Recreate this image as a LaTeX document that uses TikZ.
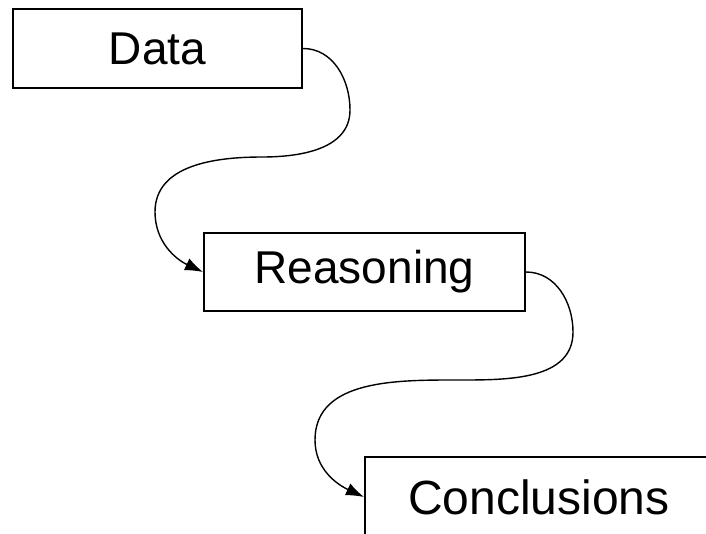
\documentclass[tikz,border=0pt]{standalone}
\usepackage{fontspec}
\setmainfont{Liberation Sans}
\usetikzlibrary{arrows.meta}

\begin{document}
\begin{tikzpicture}[x=1pt,y=1pt,
		box/.style={draw,line width=2pt,inner sep=0pt,font=\fontsize{46}{55}\selectfont},
		flow/.style={line width=1.4pt,-{Latex[length=18pt,width=13pt]}}]
					\useasboundingbox (0,0) rectangle (706,-533);
					
					\node[box,minimum width=289,minimum height=79] (Data) at (157.5,-48.5) {Data};
					\node[box,minimum width=321,minimum height=78] (Reasoning) at (364.5,-272) {Reasoning};
					% last box runs off the page on the right and below
					\node[box,anchor=north west,minimum height=80,text width=294,inner xsep=43,align=left,
						font=\fontsize{48}{58}\selectfont] (Conclusions) at (364,-456) {Conclusions};
					
					\coordinate (a1) at (350,-110);
					\coordinate (a2) at (262,-157);
					\coordinate (a3) at (155,-212);
					
					\coordinate (b1) at (573,-332);
					\coordinate (b2) at (460,-380);
					\coordinate (b3) at (315,-440);
					
					\draw [flow] (Data.east) to[out=0,in=90] (a1)
					to[out=-90,in=0] (a2) to[out=180,in=90] (a3)
					to[out=-90,in=155] (Reasoning.west);
					
					\draw [flow] (Reasoning.east) to[out=0,in=90] (b1)
					to[out=-90,in=0] (b2) to[out=180,in=90] (b3)
					to[out=-90,in=155] (Conclusions.west);
					
\end{tikzpicture}
\end{document}
